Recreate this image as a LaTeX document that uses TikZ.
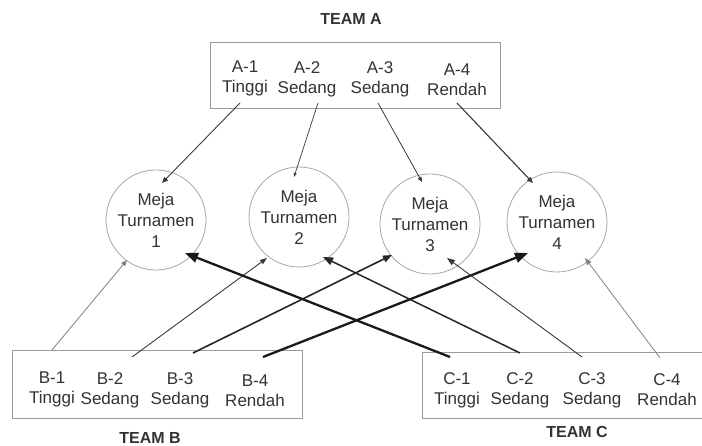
\documentclass[tikz,border=0pt]{standalone}
\usepackage{fontspec}
\setmainfont{Liberation Sans}
\usetikzlibrary{arrows.meta}
\definecolor{txt}{HTML}{333333}
\definecolor{boxline}{HTML}{9A9A9A}
\definecolor{circline}{HTML}{A8A8A8}
\definecolor{darkln}{HTML}{3A3A3A}
\definecolor{grayln}{HTML}{808080}
\tikzset{
  teambox/.style={draw=boxline, line width=0.8pt},
  item/.style={anchor=north, inner sep=0pt, align=center, text=txt,
    font=\fontsize{17}{20}\selectfont},
  table/.style={circle, draw=circline, line width=0.8pt, minimum size=100pt,
    inner sep=0pt, align=center, text=txt, font=\fontsize{17}{21}\selectfont},
  teamlabel/.style={anchor=base, inner sep=0pt, text=txt, font=\fontsize{16}{18}\selectfont\bfseries},
  conn/.style={draw=#1},
}
\begin{document}
\begin{tikzpicture}[x=1pt,y=-1pt]
\clip (0,0) rectangle (702,446);
\fill[white] (0,0) rectangle (702,446);

% team labels
\node[teamlabel] (ta) at (351,25) {TEAM A};
\node[teamlabel] (tb) at (150,443) {TEAM B};
\node[teamlabel] (tc) at (577,438) {TEAM C};

% boxes
\draw[teambox] (210,42) rectangle (500,108);
\draw[teambox] (12,350) rectangle (302,418);
\draw[teambox] (422,352) rectangle (710,418);

% team A items
\node[item] (a1) at (245,61) {A-1\\Tinggi};
\node[item] (a2) at (307,61) {A-2\\Sedang};
\node[item] (a3) at (380,61) {A-3\\Sedang};
\node[item] (a4) at (457,64) {A-4\\Rendah};

% team B items
\node[item] (b1) at (52,372) {B-1\\Tinggi};
\node[item] (b2) at (110,372) {B-2\\Sedang};
\node[item] (b3) at (180,372) {B-3\\Sedang};
\node[item] (b4) at (255,375) {B-4\\Rendah};

% team C items
\node[item] (c1) at (457,372) {C-1\\Tinggi};
\node[item] (c2) at (520,372) {C-2\\Sedang};
\node[item] (c3) at (592,372) {C-3\\Sedang};
\node[item] (c4) at (667,373) {C-4\\Rendah};

% tables
\node[table] (m1) at (156,220) {Meja\\Turnamen\\1};
\node[table] (m2) at (299,217) {Meja\\Turnamen\\2};
\node[table] (m3) at (430,224) {Meja\\Turnamen\\3};
\node[table] (m4) at (557,222) {Meja\\Turnamen\\4};

% connector ends
\coordinate (sa1) at (240,103); \coordinate (ea1) at (162,183);
\coordinate (sa2) at (318,103); \coordinate (ea2) at (294,177);
\coordinate (sa3) at (378,103); \coordinate (ea3) at (422,182);
\coordinate (sa4) at (457,103); \coordinate (ea4) at (533,183);
\coordinate (sb1) at (52,350);  \coordinate (eb1) at (127,260);
\coordinate (sb2) at (132,357); \coordinate (eb2) at (267,258);
\coordinate (sb3) at (193,353); \coordinate (eb3) at (392,255);
\coordinate (sb4) at (263,357); \coordinate (eb4) at (528,253);
\coordinate (sc1) at (450,357); \coordinate (ec1) at (185,253);
\coordinate (sc2) at (520,353); \coordinate (ec2) at (323,257);
\coordinate (sc3) at (582,357); \coordinate (ec3) at (447,258);
\coordinate (sc4) at (660,358); \coordinate (ec4) at (585,258);

% team A connectors
\draw[darkln, line width=0.9pt, -{Triangle[length=6pt,width=5pt]}] (sa1) -- (ea1);
\draw[darkln, line width=0.7pt, -{Triangle[length=4pt,width=3pt]}] (sa2) -- (ea2);
\draw[darkln, line width=0.8pt, -{Triangle[length=5pt,width=4pt]}] (sa3) -- (ea3);
\draw[darkln, line width=1.1pt, -{Triangle[length=6pt,width=5pt]}] (sa4) -- (ea4);

% team B connectors
\draw[grayln, line width=0.8pt, -{Triangle[length=6pt,width=5pt]}] (sb1) -- (eb1);
\draw[darkln, line width=0.9pt, -{Triangle[length=7pt,width=5pt]}] (sb2) -- (eb2);
\draw[black!85, line width=1.6pt, -{Triangle[length=9pt,width=7pt]}] (sb3) -- (eb3);
\draw[black!90, line width=2.3pt, -{Triangle[length=13pt,width=10pt]}] (sb4) -- (eb4);

% team C connectors
\draw[black!90, line width=2.3pt, -{Triangle[length=13pt,width=10pt]}] (sc1) -- (ec1);
\draw[black!85, line width=1.5pt, -{Triangle[length=10pt,width=8pt]}] (sc2) -- (ec2);
\draw[darkln, line width=0.9pt, -{Triangle[length=8pt,width=6pt]}] (sc3) -- (ec3);
\draw[grayln, line width=0.8pt, -{Triangle[length=7pt,width=5pt]}] (sc4) -- (ec4);
\end{tikzpicture}
\end{document}
